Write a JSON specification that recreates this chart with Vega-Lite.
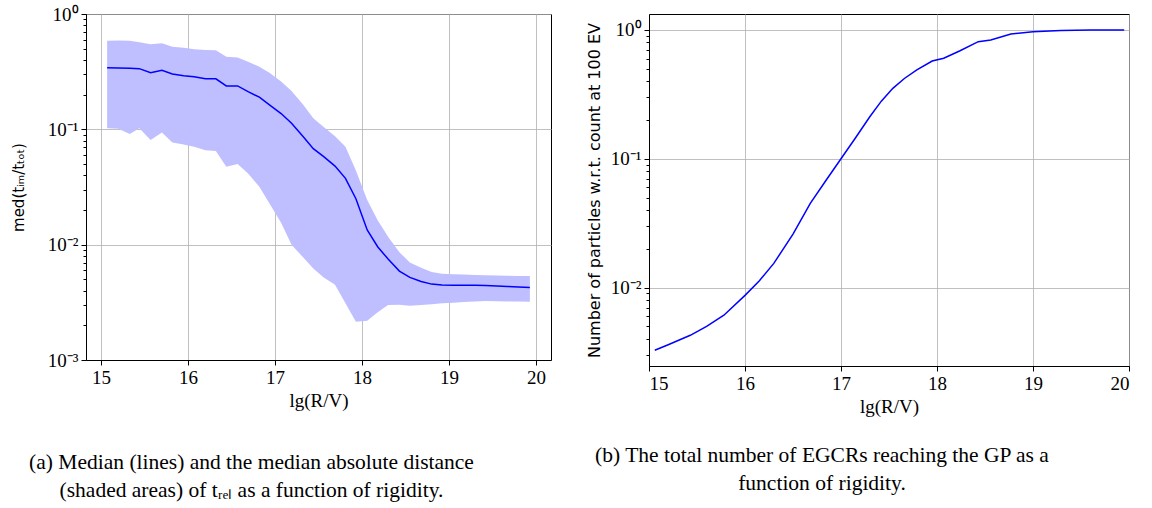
{
  "$schema": "https://vega.github.io/schema/vega-lite/v6.json",
  "background": "white",
  "padding": {"left": 10, "top": 4, "right": 0, "bottom": 0},
  "config": {
    "view": {"stroke": "#000", "strokeWidth": 1},
    "axis": {"domainColor": "#000", "tickColor": "#000", "gridColor": "#b0b0b0", "gridWidth": 0.8, "labelFont": "Liberation Serif", "labelFontSize": 19, "labelColor": "#000", "titleColor": "#000", "titleFontWeight": "normal"},
    "concat": {"spacing": 33}
  },
  "datasets": {
    "left": [
      {"x": 15.07, "lo": 0.102, "med": 0.342, "hi": 0.587},
      {"x": 15.20, "lo": 0.101, "med": 0.341, "hi": 0.588},
      {"x": 15.33, "lo": 0.091, "med": 0.338, "hi": 0.587},
      {"x": 15.44, "lo": 0.102, "med": 0.336, "hi": 0.568},
      {"x": 15.57, "lo": 0.081, "med": 0.310, "hi": 0.546},
      {"x": 15.70, "lo": 0.094, "med": 0.325, "hi": 0.557},
      {"x": 15.82, "lo": 0.077, "med": 0.302, "hi": 0.521},
      {"x": 15.95, "lo": 0.074, "med": 0.292, "hi": 0.510},
      {"x": 16.07, "lo": 0.0707, "med": 0.286, "hi": 0.494},
      {"x": 16.20, "lo": 0.066, "med": 0.275, "hi": 0.487},
      {"x": 16.32, "lo": 0.065, "med": 0.274, "hi": 0.485},
      {"x": 16.44, "lo": 0.0474, "med": 0.238, "hi": 0.426},
      {"x": 16.57, "lo": 0.050, "med": 0.238, "hi": 0.420},
      {"x": 16.69, "lo": 0.0415, "med": 0.212, "hi": 0.386},
      {"x": 16.82, "lo": 0.0318, "med": 0.190, "hi": 0.349},
      {"x": 16.94, "lo": 0.0225, "med": 0.162, "hi": 0.308},
      {"x": 17.07, "lo": 0.0155, "med": 0.137, "hi": 0.260},
      {"x": 17.19, "lo": 0.0100, "med": 0.113, "hi": 0.215},
      {"x": 17.32, "lo": 0.0078, "med": 0.087, "hi": 0.165},
      {"x": 17.44, "lo": 0.0062, "med": 0.068, "hi": 0.125},
      {"x": 17.56, "lo": 0.0052, "med": 0.058, "hi": 0.105},
      {"x": 17.69, "lo": 0.0045, "med": 0.048, "hi": 0.087},
      {"x": 17.81, "lo": 0.0031, "med": 0.0376, "hi": 0.0707},
      {"x": 17.93, "lo": 0.00215, "med": 0.025, "hi": 0.044},
      {"x": 18.06, "lo": 0.00219, "med": 0.0134, "hi": 0.0244},
      {"x": 18.18, "lo": 0.0026, "med": 0.0096, "hi": 0.0163},
      {"x": 18.30, "lo": 0.0030, "med": 0.0075, "hi": 0.0117},
      {"x": 18.43, "lo": 0.00302, "med": 0.0059, "hi": 0.0086},
      {"x": 18.55, "lo": 0.00295, "med": 0.0052, "hi": 0.0070},
      {"x": 18.68, "lo": 0.00300, "med": 0.0048, "hi": 0.0063},
      {"x": 18.80, "lo": 0.00305, "med": 0.00455, "hi": 0.0058},
      {"x": 18.92, "lo": 0.00310, "med": 0.00448, "hi": 0.0056},
      {"x": 19.05, "lo": 0.00314, "med": 0.00445, "hi": 0.00555},
      {"x": 19.17, "lo": 0.00318, "med": 0.00444, "hi": 0.0055},
      {"x": 19.30, "lo": 0.00322, "med": 0.00444, "hi": 0.00547},
      {"x": 19.42, "lo": 0.00324, "med": 0.00442, "hi": 0.00544},
      {"x": 19.55, "lo": 0.00323, "med": 0.00438, "hi": 0.00541},
      {"x": 19.67, "lo": 0.00322, "med": 0.00434, "hi": 0.00538},
      {"x": 19.80, "lo": 0.00321, "med": 0.00430, "hi": 0.00536},
      {"x": 19.93, "lo": 0.00320, "med": 0.00426, "hi": 0.00534}
    ],
    "right": [
      {"x": 15.06, "n": 0.00326},
      {"x": 15.2, "n": 0.0036},
      {"x": 15.43, "n": 0.00426},
      {"x": 15.6, "n": 0.0050},
      {"x": 15.78, "n": 0.0061},
      {"x": 16.0, "n": 0.0087},
      {"x": 16.15, "n": 0.0113},
      {"x": 16.30, "n": 0.0154},
      {"x": 16.5, "n": 0.026},
      {"x": 16.68, "n": 0.045},
      {"x": 16.85, "n": 0.069},
      {"x": 17.0, "n": 0.1},
      {"x": 17.15, "n": 0.145},
      {"x": 17.30, "n": 0.212},
      {"x": 17.42, "n": 0.28},
      {"x": 17.54, "n": 0.352},
      {"x": 17.66, "n": 0.42},
      {"x": 17.79, "n": 0.489},
      {"x": 17.95, "n": 0.574},
      {"x": 18.07, "n": 0.603},
      {"x": 18.24, "n": 0.690},
      {"x": 18.43, "n": 0.811},
      {"x": 18.56, "n": 0.836},
      {"x": 18.77, "n": 0.93},
      {"x": 19.0, "n": 0.97},
      {"x": 19.29, "n": 0.99},
      {"x": 19.6, "n": 1.0},
      {"x": 19.95, "n": 1.0}
    ]
  },
  "hconcat": [
    {
      "width": 465,
      "height": 346,
      "data": {"name": "left"},
      "title": {"text": ["(a) Median (lines) and the median absolute distance", "(shaded areas) of tᵣₑₗ as a function of rigidity."], "orient": "bottom", "anchor": "middle", "frame": "group", "font": "Liberation Serif", "fontSize": 21.5, "fontWeight": "normal", "lineHeight": 28, "offset": 42, "dx": -67, "color": "#000"},
      "encoding": {
        "x": {"field": "x", "type": "quantitative", "scale": {"domain": [14.827, 20.173], "nice": false, "zero": false},
          "axis": {"values": [15, 16, 17, 18, 19, 20], "title": "lg(R/V)", "titleFont": "Liberation Serif", "titleFontSize": 19, "tickSize": 5, "labelPadding": 3, "titlePadding": 4, "grid": true}}
      },
      "layer": [
        {"mark": {"type": "area", "color": "#bfbfff", "opacity": 1},
          "encoding": {
            "y": {"field": "lo", "type": "quantitative", "scale": {"type": "log", "domain": [0.001, 1], "nice": false},
              "axis": {"values": [0.001, 0.002, 0.003, 0.004, 0.005, 0.006, 0.007, 0.008, 0.009, 0.01, 0.02, 0.03, 0.04, 0.05, 0.06, 0.07, 0.08, 0.09, 0.1, 0.2, 0.3, 0.4, 0.5, 0.6, 0.7, 0.8, 0.9, 1],
                "labelExpr": "datum.value == 1 ? '10⁰' : datum.value == 0.1 ? '10⁻¹' : datum.value == 0.01 ? '10⁻²' : datum.value == 0.001 ? '10⁻³' : ''",
                "tickSize": {"condition": {"test": "indexof([1, 0.1, 0.01, 0.001], datum.value) >= 0", "value": 5}, "value": 3},
                "gridOpacity": {"condition": {"test": "indexof([1, 0.1, 0.01, 0.001], datum.value) >= 0", "value": 1}, "value": 0},
                "grid": true, "labelPadding": 3, "title": "med(tᵢₘ/tₜₒₜ)", "titleFont": "DejaVu Sans", "titleFontSize": 15, "titlePadding": 21}},
            "y2": {"field": "hi"}
          }},
        {"mark": {"type": "line", "color": "#0000ff", "strokeWidth": 1.5},
          "encoding": {"y": {"field": "med", "type": "quantitative"}}}
      ]
    },
    {
      "width": 480,
      "height": 352,
      "data": {"name": "right"},
      "title": {"text": ["(b) The total number of EGCRs reaching the GP as a", "function of rigidity."], "orient": "bottom", "anchor": "middle", "frame": "group", "font": "Liberation Serif", "fontSize": 21.5, "fontWeight": "normal", "lineHeight": 28, "offset": 29, "dx": -67, "color": "#000"},
      "mark": {"type": "line", "color": "#0000ff", "strokeWidth": 1.5},
      "encoding": {
        "x": {"field": "x", "type": "quantitative", "scale": {"domain": [15, 20], "nice": false, "zero": false},
          "axis": {"values": [15, 16, 17, 18, 19, 20], "title": "lg(R/V)", "titleFont": "Liberation Serif", "titleFontSize": 19, "tickSize": 5, "labelPadding": 3, "titlePadding": 4, "grid": true}},
        "y": {"field": "n", "type": "quantitative", "scale": {"type": "log", "domain": [0.00246, 1.33], "nice": false},
          "axis": {"values": [0.003, 0.004, 0.005, 0.006, 0.007, 0.008, 0.009, 0.01, 0.02, 0.03, 0.04, 0.05, 0.06, 0.07, 0.08, 0.09, 0.1, 0.2, 0.3, 0.4, 0.5, 0.6, 0.7, 0.8, 0.9, 1],
            "labelExpr": "datum.value == 1 ? '10⁰' : datum.value == 0.1 ? '10⁻¹' : datum.value == 0.01 ? '10⁻²' : ''",
            "tickSize": {"condition": {"test": "indexof([1, 0.1, 0.01], datum.value) >= 0", "value": 5}, "value": 3},
            "gridOpacity": {"condition": {"test": "indexof([1, 0.1, 0.01], datum.value) >= 0", "value": 1}, "value": 0},
            "grid": true, "labelPadding": 3, "title": "Number of particles w.r.t. count at 100 EV", "titleFont": "DejaVu Sans", "titleFontSize": 16, "titlePadding": 8}}
      }
    }
  ]
}
